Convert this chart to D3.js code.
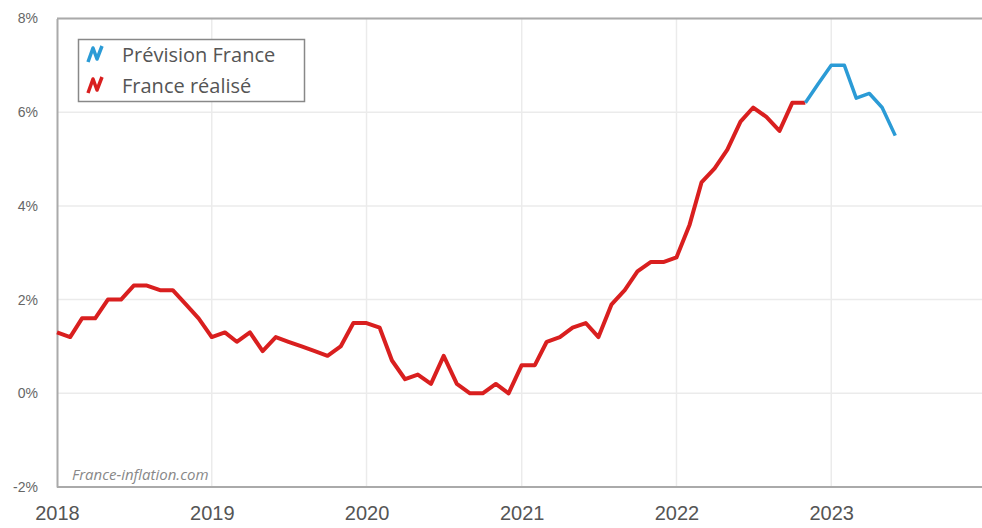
<!DOCTYPE html>
<html>
<head>
<meta charset="utf-8">
<script src="https://cdn.jsdelivr.net/npm/d3@7"></script>
<style>
    body { margin: 0; background: #fff; }
    svg { display: block; font-family: "Open Sans", sans-serif; }
</style>
</head>
<body>
<div id="chart"></div>
<script>
// monthly values, first month Jan 2018
const realStart = "2018-01";
const realValues = [
    1.3, 1.2, 1.6, 1.6, 2.0, 2.0, 2.3, 2.3, 2.2, 2.2, 1.9, 1.6,
    1.2, 1.3, 1.1, 1.3, 0.9, 1.2, 1.1, 1.0, 0.9, 0.8, 1.0, 1.5,
    1.5, 1.4, 0.7, 0.3, 0.4, 0.2, 0.8, 0.2, 0.0, 0.0, 0.2, 0.0,
    0.6, 0.6, 1.1, 1.2, 1.4, 1.5, 1.2, 1.9, 2.2, 2.6, 2.8, 2.8,
    2.9, 3.6, 4.5, 4.8, 5.2, 5.8, 6.1, 5.9, 5.6, 6.2, 6.2
];
const forecastStart = "2022-11";
const forecastValues = [6.2, 6.6, 7.0, 7.0, 6.3, 6.4, 6.1, 5.5];

const yTicks = [-2, 0, 2, 4, 6, 8];
const xYears = [2018, 2019, 2020, 2021, 2022, 2023, 2024];
const seriesNames = ["Prévision France", "France réalisé"];
const seriesColors = ["#2b9bd6", "#d91f1f"];
const watermark = "France-inflation.com";

const W = 982, H = 528;
const plotL = 57, plotT = 18.5, plotB = 487, plotR = 982;

const parseMonth = d3.timeParse("%Y-%m");
function toPoints(start, vals) {
    const s = parseMonth(start);
    return vals.map((v, i) => ({date: d3.timeMonth.offset(s, i), value: v}));
}
const realData = toPoints(realStart, realValues);
const forecastData = toPoints(forecastStart, forecastValues);

const x = d3.scaleTime()
    .domain([new Date(2018, 0, 1), new Date(2024, 0, 1)])
    .range([plotL, 986]);
const y = d3.scaleLinear()
    .domain([-2, 8])
    .range([plotB, plotT]);

const svg = d3.select("#chart").append("svg")
    .attr("width", W)
    .attr("height", H);

svg.append("clipPath").attr("id", "plot")
    .append("rect")
    .attr("x", plotL).attr("y", 0)
    .attr("width", plotR - plotL).attr("height", H);

// grid
const grid = svg.append("g").attr("clip-path", "url(#plot)");
grid.selectAll(".hgrid")
    .data(yTicks)
    .enter().append("line")
    .attr("x1", plotL).attr("x2", plotR)
    .attr("y1", d => y(d)).attr("y2", d => y(d))
    .attr("stroke", "#ebebeb")
    .attr("stroke-width", 1.5);
grid.selectAll(".vgrid")
    .data(xYears.map(d => new Date(d, 0, 1)))
    .enter().append("line")
    .attr("x1", d => x(d)).attr("x2", d => x(d))
    .attr("y1", plotT).attr("y2", plotB)
    .attr("stroke", "#ebebeb")
    .attr("stroke-width", 1.5);

// top border
svg.append("line")
    .attr("x1", plotL).attr("x2", plotR)
    .attr("y1", plotT).attr("y2", plotT)
    .attr("stroke", "#aaa").attr("stroke-width", 2);

// axes
const xAxis = svg.append("g")
    .attr("transform", "translate(0," + plotB + ")")
    .call(d3.axisBottom(x)
        .tickValues(xYears.slice(0, -1).map(d => new Date(d, 0, 1)))
        .tickFormat(d3.timeFormat("%Y"))
        .tickSize(0)
        .tickPadding(21));
xAxis.select(".domain").attr("stroke", "#aaa").attr("stroke-width", 2)
    .attr("d", "M" + plotL + ",0H" + plotR);
xAxis.selectAll("text")
    .attr("fill", "#555")
    .style("font-size", "20px")
    .attr("dy", "0.6em");

const yAxis = svg.append("g")
    .attr("transform", "translate(" + plotL + ",0)")
    .call(d3.axisLeft(y)
        .tickValues(yTicks)
        .tickFormat(d => d + "%")
        .tickSize(0)
        .tickPadding(19));
yAxis.select(".domain").attr("stroke", "#aaa").attr("stroke-width", 2);
yAxis.selectAll("text")
    .attr("fill", "#666")
    .style("font-size", "14px");

// lines
const line = d3.line()
    .x(d => x(d.date))
    .y(d => y(d.value));

svg.append("path")
    .datum(realData)
    .attr("fill", "none")
    .attr("stroke", seriesColors[1])
    .attr("stroke-width", 4)
    .attr("stroke-linejoin", "round")
    .attr("d", line);

svg.append("path")
    .datum(forecastData)
    .attr("fill", "none")
    .attr("stroke", seriesColors[0])
    .attr("stroke-width", 3.5)
    .attr("stroke-linejoin", "round")
    .attr("d", line);

// watermark
svg.append("text")
    .attr("x", 72).attr("y", 480)
    .attr("fill", "#888")
    .style("font-size", "15px")
    .style("font-style", "italic")
    .text(watermark);

// legend
const legend = svg.append("g");
legend.append("rect")
    .attr("x", 78.5).attr("y", 39.5)
    .attr("width", 226).attr("height", 62)
    .attr("fill", "#fff")
    .attr("stroke", "#888")
    .attr("stroke-width", 1.5);

const items = legend.selectAll(".item")
    .data(seriesNames)
    .enter().append("g")
    .attr("transform", (d, i) => "translate(0," + (i * 31) + ")");
items.append("path")
    .attr("d", "M88,62L93,48L97,59L102,46")
    .attr("fill", "none")
    .attr("stroke", (d, i) => seriesColors[i])
    .attr("stroke-width", 3.5)
    .attr("stroke-linejoin", "round");
items.append("text")
    .attr("x", 122).attr("y", 62)
    .attr("fill", "#555")
    .style("font-size", "20px")
    .text(d => d);
</script>
</body>
</html>
